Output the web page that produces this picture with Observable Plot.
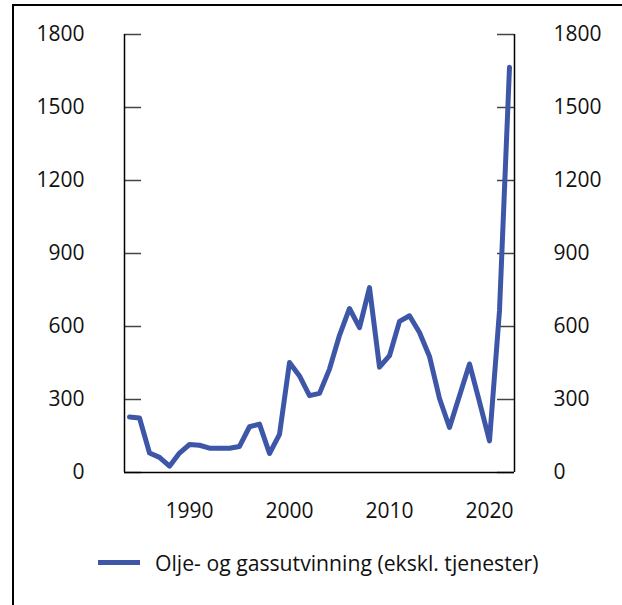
<!DOCTYPE html>
<html>
<head>
<meta charset="utf-8">
<script src="https://cdn.jsdelivr.net/npm/d3@7"></script>
<script src="https://cdn.jsdelivr.net/npm/@observablehq/plot@0.6"></script>
<style>
  html, body { margin: 0; padding: 0; background: #fff; overflow: hidden; }
  body { width: 622px; height: 605px; position: relative; font-family: "Open Sans", sans-serif; }
  #border { position: absolute; left: 12px; top: 4px; width: 640px; height: 640px;
            border-top: 2px solid #000; border-left: 2px solid #000; }
  #chart { position: absolute; left: 0; top: 0; }
  #legend { position: absolute; left: 98px; top: 548px; display: flex; align-items: center;
            font-size: 21.2px; color: #111; white-space: nowrap; }
  #legend .swatch { width: 42px; height: 5px; background: #3e56a7; margin-right: 15px; }
</style>
</head>
<body>
<div id="border"></div>
<div id="chart"></div>
<div id="legend"><span class="swatch"></span><span id="legend-label"></span></div>
<script>
const seriesName = "Olje- og gassutvinning (ekskl. tjenester)";
const years = [1984, 1985, 1986, 1987, 1988, 1989, 1990, 1991, 1992, 1993,
               1994, 1995, 1996, 1997, 1998, 1999, 2000, 2001, 2002, 2003,
               2004, 2005, 2006, 2007, 2008, 2009, 2010, 2011, 2012, 2013,
               2014, 2015, 2016, 2017, 2018, 2019, 2020, 2021, 2022];
const values = [228, 224, 80, 62, 26, 80, 115, 112, 100, 100,
                100, 107, 188, 199, 78, 157, 452, 397, 316, 325,
                425, 564, 674, 595, 760, 433, 480, 621, 644, 575,
                477, 304, 185, 315, 446, 290, 130, 665, 1665];
const xTicks = [1990, 2000, 2010, 2020];
const yTicks = [0, 300, 600, 900, 1200, 1500, 1800];
const xDomain = [1983.5, 2022.5];
const yDomain = [0, 1800];

const data = years.map((year, i) => ({year, value: values[i]}));
const lineColor = "#3e56a7";

const W = 622, H = 530;
const mL = 124, mR = 108, mT = 34, mB = 58;
const frameW = W - mL - mR;
const tickLen = 17;
const fmt = d => String(d);

const chart = Plot.plot({
  width: W,
  height: H,
  marginLeft: mL,
  marginRight: mR,
  marginTop: mT,
  marginBottom: mB,
  style: {fontFamily: "Open Sans, sans-serif", fontSize: "21px", color: "#111", background: "transparent", overflow: "visible"},
  x: {domain: xDomain},
  y: {domain: yDomain},
  marks: [
    Plot.tickY(yTicks, {y: d => d, stroke: "#444", strokeWidth: 1.5, insetRight: frameW - tickLen}),
    Plot.tickY(yTicks, {y: d => d, stroke: "#444", strokeWidth: 1.5, insetLeft: frameW - tickLen}),
    Plot.ruleX(xDomain, {stroke: "#000", strokeWidth: 1.5}),
    Plot.ruleY([0], {stroke: "#000", strokeWidth: 1.5}),
    Plot.axisY(yTicks, {anchor: "left", tickSize: 0, tickPadding: 40, fontSize: 21, label: null, tickFormat: fmt}),
    Plot.axisY(yTicks, {anchor: "right", tickSize: 0, tickPadding: 39, fontSize: 21, label: null, tickFormat: fmt}),
    Plot.axisX(xTicks, {anchor: "bottom", tickSize: 0, tickPadding: 31, fontSize: 21, label: null, tickFormat: fmt}),
    Plot.line(data, {x: "year", y: "value", stroke: lineColor, strokeWidth: 5, strokeLinejoin: "round", strokeLinecap: "round"})
  ]
});
document.getElementById("chart").appendChild(chart);
document.getElementById("legend-label").textContent = seriesName;
</script>
</body>
</html>
